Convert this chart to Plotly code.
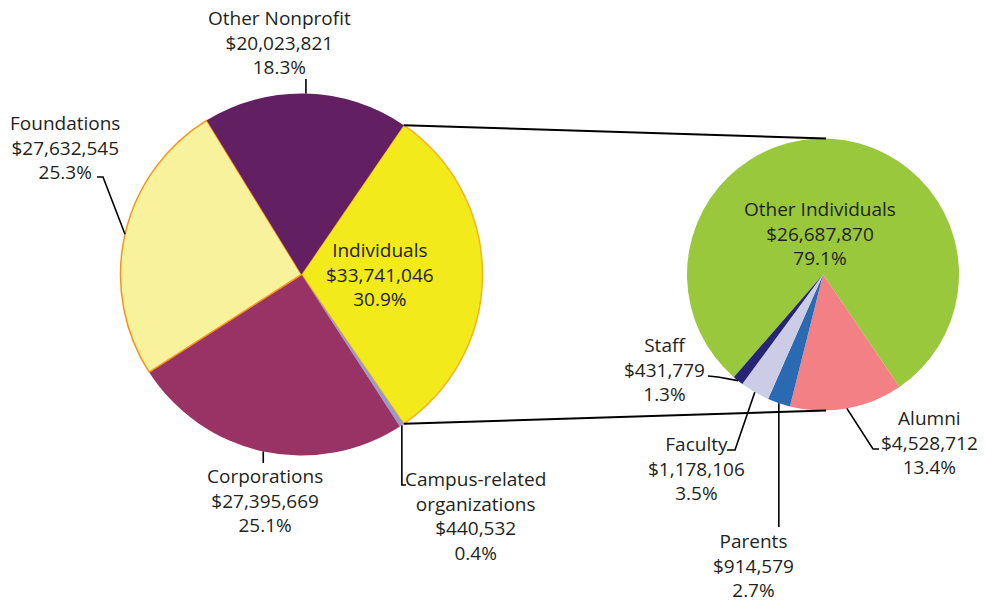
import math
import plotly.graph_objects as go

W, H = 985, 601
OFF = 8  # the page body keeps its default 8px margin

# gift sources (left pie)
src_labels = ["Individuals", "Campus-related<br>organizations", "Corporations", "Foundations", "Other Nonprofit"]
src_values = [33741046, 440532, 27395669, 27632545, 20023821]
src_colors = ["#f2ea1a", "#9a99cc", "#993366", "#f7f29b", "#621f62"]

# breakdown of individuals (right pie)
ind_labels = ["Other Individuals", "Alumni", "Parents", "Faculty", "Staff"]
ind_values = [26687870, 4528712, 914579, 1178106, 431779]
ind_colors = ["#9ac83c", "#f28085", "#2a6ab3", "#cccce6", "#272675"]

TXT = "#231f20"
FONT = "Open Sans"

# pie placement in window pixels
left = dict(cx=301.5, cy=274.5, r=181, rot=34.4)
right = dict(cx=823, cy=274.5, r=136, rot=221)

# label block centres (px) and leader routes after the slice anchor (px)
src_pos = {
    "Individuals": (380, 274, None),
    "Campus-related<br>organizations": (475, 516, [(None, 485), (406, 485)]),
    "Corporations": (265, 500, [(None, 463)]),
    "Foundations": (65, 147, [(103, 177), (97, 177)]),
    "Other Nonprofit": (279, 43, [(None, 79)]),
}
ind_pos = {
    "Other Individuals": (820, 233, None),
    "Alumni": (929, 442, [(873, 449), (879, 449)]),
    "Parents": (753, 565, [(None, 527)]),
    "Faculty": (696, 468, [(735, 450), (727, 450)]),
    "Staff": (664, 370, [(718, 377), (708, 376)]),
}

FW, FH = W - OFF, H - OFF


def px(x):
    return (x - OFF) / FW


def py(y):
    return 1 - (y - OFF) / FH


def domain(p):
    return dict(x=[px(p["cx"] - p["r"]), px(p["cx"] + p["r"])],
                y=[py(p["cy"] + p["r"]), py(p["cy"] - p["r"])])


def slice_angles(values, rot):
    tot = sum(values)
    out, a = [], rot
    for v in values:
        b = a + 360 * v / tot
        out.append((a, b))
        a = b
    return out


def edge(p, deg):
    t = math.radians(deg)
    return p["cx"] + p["r"] * math.sin(t), p["cy"] - p["r"] * math.cos(t)


fig = go.Figure()
fig.add_trace(go.Pie(
    labels=src_labels, values=src_values, sort=False, direction="clockwise",
    rotation=left["rot"], domain=domain(left), textinfo="none",
    marker=dict(colors=src_colors,
                line=dict(color=["#f8b31b", src_colors[1], src_colors[2], "#f7941d", src_colors[4]],
                          width=[1.5, 0, 0, 1.5, 0])),
    showlegend=False))
fig.add_trace(go.Pie(
    labels=ind_labels, values=ind_values, sort=False, direction="clockwise",
    rotation=right["rot"], domain=domain(right), textinfo="none",
    marker=dict(colors=ind_colors, line=dict(width=0)),
    showlegend=False))

shapes, annotations = [], []


def add_labels(p, labels, values, pos):
    tot = sum(values)
    for (a, b), lab, v in zip(slice_angles(values, p["rot"]), labels, values):
        x, y, route = pos[lab]
        annotations.append(dict(
            x=px(x), y=py(y), xref="paper", yref="paper", xanchor="center", yanchor="middle",
            text=f"{lab}<br>${v:,}<br>{100 * v / tot:.1f}%", showarrow=False,
            font=dict(family=FONT, size=19, color=TXT)))
        if route:
            ax, ay = edge(p, (a + b) / 2)
            pts = [(ax, ay)] + [(ax if rx is None else rx, ry) for rx, ry in route]
            path = "M " + " L ".join(f"{px(u):.5f},{py(w):.5f}" for u, w in pts)
            shapes.append(dict(type="path", path=path, xref="paper", yref="paper",
                               line=dict(color="black", width=1.6)))


add_labels(left, src_labels, src_values, src_pos)
add_labels(right, ind_labels, ind_values, ind_pos)

# connector lines from the Individuals slice to the breakdown pie
a0, a1 = slice_angles(src_values, left["rot"])[0]
for ang, ry in ((a0, right["cy"] - right["r"]), (a1, right["cy"] + right["r"])):
    x0, y0 = edge(left, ang)
    shapes.append(dict(type="line", xref="paper", yref="paper",
                       x0=px(x0), y0=py(y0), x1=px(right["cx"] + 3), y1=py(ry),
                       line=dict(color="black", width=2)))

fig.update_layout(width=FW, height=FH, margin=dict(l=0, r=0, t=0, b=0),
                  paper_bgcolor="white", plot_bgcolor="white",
                  shapes=shapes, annotations=annotations)
fig.write_html("out.html")
